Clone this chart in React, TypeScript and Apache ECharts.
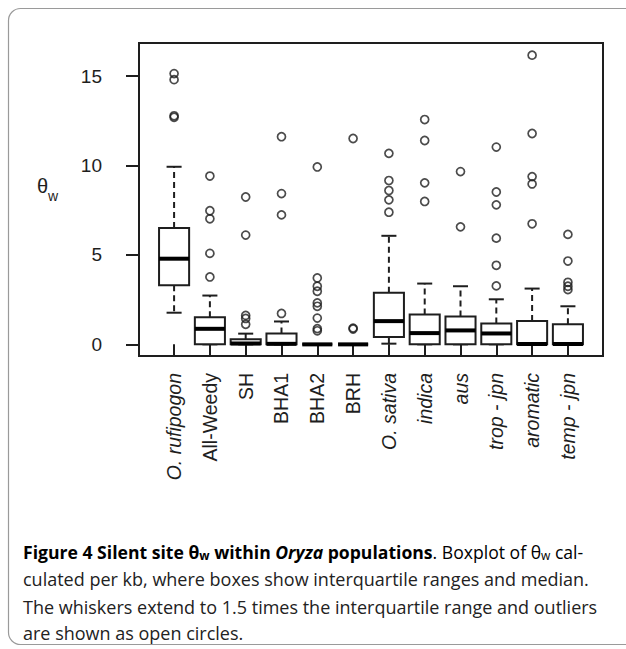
import React, { useEffect, useRef } from "react";
import * as echarts from "echarts";

const categories = ["O. rufipogon", "All-Weedy", "SH", "BHA1", "BHA2", "BRH", "O. sativa", "indica", "aus", "trop - jpn", "aromatic", "temp - jpn"];
const italicCategory = [true, false, false, false, false, false, true, true, true, true, true, true];
const lowerWhisker = [1.77, 0, 0, 0, 0, 0, 0.04, 0, 0, 0, 0, 0];
const q1 = [3.3, 0, 0, 0, 0, 0, 0.41, 0, 0, 0, 0, 0];
const median = [4.79, 0.87, 0.05, 0.03, 0, 0, 1.3, 0.63, 0.78, 0.61, 0.02, 0.02];
const q3 = [6.5, 1.52, 0.28, 0.61, 0, 0, 2.88, 1.67, 1.56, 1.17, 1.3, 1.13];
const upperWhisker = [9.93, 2.73, 0.6, 1.28, 0, 0, 6.07, 3.4, 3.25, 2.52, 3.12, 2.13];
const outliers = [
  [15.14, 14.8, 12.78, 12.7],
  [9.41, 7.47, 7.02, 5.09, 3.77],
  [8.24, 6.11, 1.62, 1.45, 1.12],
  [11.61, 8.43, 7.24, 1.73],
  [9.92, 3.71, 3.25, 2.97, 2.32, 2.13, 1.47, 0.88, 0.76],
  [11.51, 0.91, 0.86],
  [10.68, 9.16, 8.6, 8.08, 7.39],
  [12.57, 11.4, 9.03, 7.99],
  [9.66, 6.57],
  [11.03, 8.52, 7.8, 5.94, 4.42, 3.27],
  [16.17, 11.79, 9.38, 8.97, 6.74],
  [6.15, 4.66, 3.47, 3.25, 3.06],
];
const yTicks = [0, 5, 10, 15];
const xPositions = categories.map((_, i) => i + 1);

const INK = "#1e1e1e";
const AXIS_FONT = "'Liberation Sans', Arial, sans-serif";
const CAP_FONT = "'Open Sans', 'Noto Sans', sans-serif";

export default function App() {
  const ref = useRef<HTMLDivElement>(null);
  useEffect(() => {
    if (!ref.current) return;
    const chart = echarts.init(ref.current, null, { renderer: "svg" });
    const boxData = categories.map((_, i) => [i + 1, lowerWhisker[i], q1[i], median[i], q3[i], upperWhisker[i]]);
    const outlierData: number[][] = [];
    outliers.forEach((arr, i) => arr.forEach((v) => outlierData.push([i + 1, v])));

    const capLine = (parts: { t: string; s: string }[]) =>
      parts.map((p) => `{${p.s}|${p.t}}`).join("");

    const F1 = 17.6;
    const richCap = {
      b: { fontFamily: CAP_FONT, fontSize: F1, fontWeight: "bold", color: "#111", lineHeight: 24, verticalAlign: "bottom" },
      bi: { fontFamily: CAP_FONT, fontSize: F1, fontWeight: "bold", fontStyle: "italic", color: "#111", lineHeight: 24, verticalAlign: "bottom" },
      bs: { fontFamily: CAP_FONT, fontSize: 12, fontWeight: "bold", color: "#111", lineHeight: 6, verticalAlign: "bottom" },
      n: { fontFamily: CAP_FONT, fontSize: F1, color: "#222", lineHeight: 24, verticalAlign: "bottom" },
      ns: { fontFamily: CAP_FONT, fontSize: 12, color: "#222", lineHeight: 6, verticalAlign: "bottom" },
    };
    const capText = { fontFamily: CAP_FONT, fontSize: 18, fill: "#222" };

    chart.setOption({
      animation: false,
      backgroundColor: "#ffffff",
      grid: {
        left: 139,
        right: 23,
        top: 43,
        bottom: 293,
        show: true,
        borderColor: INK,
        borderWidth: 2,
        backgroundColor: "transparent",
      },
      xAxis: {
        type: "value",
        min: 0.02,
        max: 12.98,
        splitLine: { show: false },
        axisLine: { show: false },
        axisTick: {
          show: true,
          length: 12,
          customValues: xPositions,
          lineStyle: { color: INK, width: 2 },
        },
        axisLabel: {
          customValues: xPositions,
          rotate: 90,
          margin: 17,
          formatter: (v: number) => {
            const i = Math.round(v) - 1;
            if (i < 0 || i >= categories.length) return "";
            return italicCategory[i] ? `{i|${categories[i]}}` : `{n|${categories[i]}}`;
          },
          rich: {
            i: { fontFamily: AXIS_FONT, fontSize: 19.5, fontStyle: "italic", color: INK },
            n: { fontFamily: AXIS_FONT, fontSize: 19.5, color: INK },
          },
        },
      },
      yAxis: {
        type: "value",
        min: -0.65,
        max: 16.85,
        splitLine: { show: false },
        axisLine: { show: false },
        axisTick: {
          show: true,
          length: 13,
          customValues: yTicks,
          lineStyle: { color: INK, width: 2 },
        },
        axisLabel: {
          customValues: yTicks,
          margin: 37,
          fontFamily: AXIS_FONT,
          fontSize: 19,
          color: INK,
        },
      },
      series: [
        {
          type: "custom",
          data: boxData,
          encode: { x: 0, y: [1, 2, 3, 4, 5] },
          renderItem: (params: any, api: any) => {
            const x = api.value(0);
            const lo = api.coord([x, api.value(1)]);
            const b1 = api.coord([x, api.value(2)]);
            const md = api.coord([x, api.value(3)]);
            const b3 = api.coord([x, api.value(4)]);
            const hi = api.coord([x, api.value(5)]);
            const half = api.size([0.42, 0])[0];
            const cap = half / 2;
            const cx = lo[0];
            const ls = { stroke: INK, lineWidth: 2, fill: "none" };
            return {
              type: "group",
              children: [
                { type: "line", shape: { x1: cx, y1: b3[1], x2: cx, y2: hi[1] }, style: { ...ls, lineDash: [6, 4] } },
                { type: "line", shape: { x1: cx, y1: b1[1], x2: cx, y2: lo[1] }, style: { ...ls, lineDash: [6, 4] } },
                { type: "line", shape: { x1: cx - cap, y1: hi[1], x2: cx + cap, y2: hi[1] }, style: ls },
                { type: "line", shape: { x1: cx - cap, y1: lo[1], x2: cx + cap, y2: lo[1] }, style: ls },
                { type: "rect", shape: { x: cx - half, y: b3[1], width: half * 2, height: b1[1] - b3[1] }, style: { stroke: INK, lineWidth: 2, fill: "#ffffff" } },
                { type: "line", shape: { x1: cx - half, y1: md[1], x2: cx + half, y2: md[1] }, style: { stroke: "#000", lineWidth: 4 } },
              ],
            };
          },
          z: 2,
        },
        {
          type: "scatter",
          data: outlierData,
          symbol: "circle",
          symbolSize: 8,
          itemStyle: { color: "transparent", borderColor: INK, borderWidth: 1.7 },
          z: 3,
        },
      ],
      graphic: [
        {
          type: "rect",
          shape: { x: 8.5, y: 8.5, width: 660, height: 636, r: 12 },
          style: { fill: "none", stroke: "#9a9a9a", lineWidth: 1.2 },
          silent: true,
        },
        {
          type: "text",
          x: 37,
          y: 176,
          style: { text: "θ", fontFamily: AXIS_FONT, fontSize: 20, fill: INK },
        },
        {
          type: "text",
          x: 48,
          y: 189,
          style: { text: "w", fontFamily: AXIS_FONT, fontSize: 14, fill: INK },
        },
        {
          type: "text",
          x: 23,
          y: 537,
          style: {
            text: capLine([
              { t: "Figure 4 Silent site θ", s: "b" },
              { t: "w", s: "bs" },
              { t: " within ", s: "b" },
              { t: "Oryza", s: "bi" },
              { t: " populations", s: "b" },
              { t: ". Boxplot of θ", s: "n" },
              { t: "w", s: "ns" },
              { t: " cal-", s: "n" },
            ]),
            rich: richCap,
          },
        },
        {
          type: "text",
          x: 23,
          y: 570,
          style: { text: "culated per kb, where boxes show interquartile ranges and median.", ...capText },
        },
        {
          type: "text",
          x: 23,
          y: 598,
          style: { text: "The whiskers extend to 1.5 times the interquartile range and outliers", ...capText },
        },
        {
          type: "text",
          x: 23,
          y: 624,
          style: { text: "are shown as open circles.", ...capText },
        },
      ],
    });
    return () => chart.dispose();
  }, []);
  return <div ref={ref} style={{ position: "fixed", left: 0, top: 0, width: 626, height: 649 }} />;
}
